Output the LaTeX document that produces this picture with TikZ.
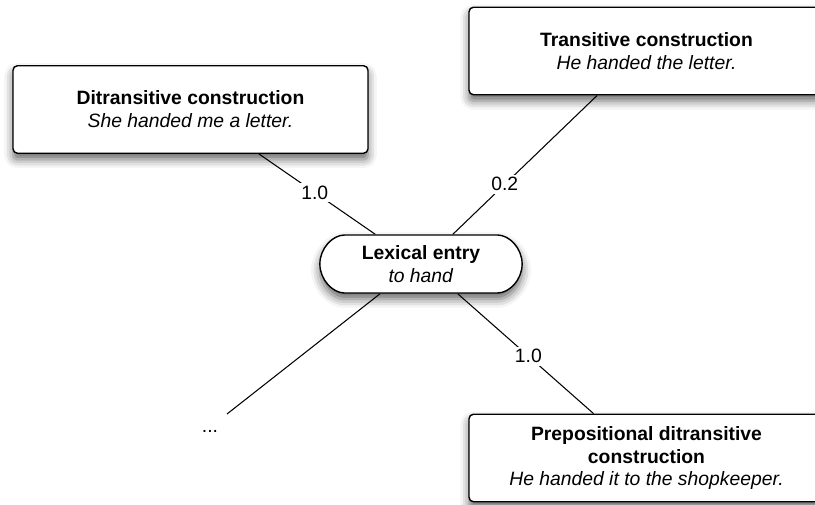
\documentclass[tikz,border=0pt]{standalone}
\usepackage{fontspec}
\setmainfont{Liberation Sans}
\usepackage{tikz}
\usetikzlibrary{shapes.misc,shadows.blur}

\begin{document}
\begin{tikzpicture}[x=0.02cm,y=-0.02cm,
  cbox/.style={draw,thick,fill=white,rounded corners=2.5pt,minimum width=7.1cm,minimum height=1.75cm,align=center,font=\fontsize{11}{13}\selectfont,
    blur shadow={shadow xshift=0pt,shadow yshift=-3.5pt,shadow blur radius=5pt,shadow opacity=60}},
  lbox/.style={cbox,rounded rectangle,minimum width=4.28cm,minimum height=1.16cm},
  wt/.style={fill=white,inner sep=1.5pt,font=\fontsize{11}{13}\selectfont},
  conn/.style={semithick}]
\useasboundingbox (0,0) rectangle (815,504);
\node[cbox] (ditr) at (190.5,109.5) {\textbf{Ditransitive construction}\\\textit{She handed me a letter.}};
\node[cbox] (trans) at (646.5,51) {\textbf{Transitive construction}\\\textit{He handed the letter.}};
\node[cbox] (prep) at (646.5,458) {\textbf{Prepositional ditransitive}\\\textbf{construction}\\\textit{He handed it to the shopkeeper.}};
\node[lbox] (lex) at (421,264) {\textbf{Lexical entry}\\\textit{to hand}};
\coordinate (more) at (227,414);
\node[font=\fontsize{11}{13}\selectfont] (dots) at (210,431) {...};
% weighted links
\draw[conn] (ditr.-33) -- node[wt,pos=0.48] {1.0} (lex.147);
\draw[conn] (trans.222) -- node[wt,pos=0.64] {0.2} (lex.43);
\draw[conn] (lex.-39.6) -- node[wt,pos=0.52] {1.0} (prep.140);
\draw[conn] (lex.216.6) -- (more);
\end{tikzpicture}
\end{document}
